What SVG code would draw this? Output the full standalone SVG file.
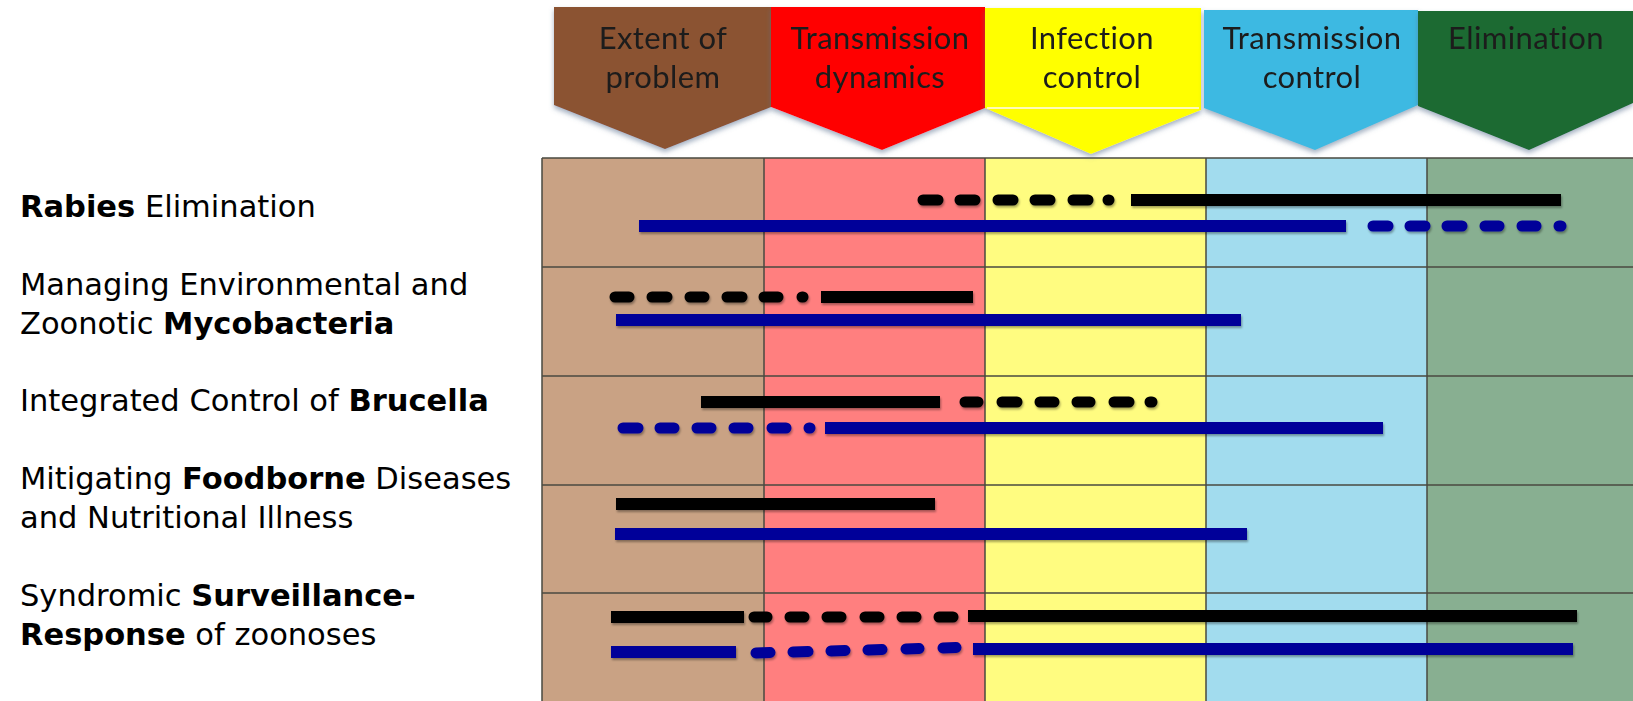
<svg xmlns="http://www.w3.org/2000/svg" width="1633" height="701" viewBox="0 0 1633 701">
<style>
.hdr{font-family:Lato,"Liberation Sans",sans-serif;font-size:31px;letter-spacing:0.4px;fill:#1c1c1c;text-anchor:middle}
.lbl{font-family:"DejaVu Sans","Liberation Sans",sans-serif;font-size:30.5px;fill:#000}
.b{font-weight:bold}
.grid{stroke:#4a4a40;stroke-width:1.5;fill:none}
.sk{stroke:#000;stroke-width:12;fill:none}
.sb{stroke:#000099;stroke-width:12;fill:none}
.dk{stroke:#000;stroke-width:11;fill:none;stroke-linecap:round}
.db{stroke:#000099;stroke-width:11;fill:none;stroke-linecap:round}
</style>
<defs>
<filter id="sh" x="-10%" y="-10%" width="120%" height="130%">
<feDropShadow dx="0" dy="3" stdDeviation="2.5" flood-color="#5a7090" flood-opacity="0.55"/>
</filter>
<filter id="bs" x="-5%" y="-50%" width="110%" height="200%">
<feDropShadow dx="1" dy="2" stdDeviation="1.2" flood-color="#000" flood-opacity="0.35"/>
</filter>
</defs>
<rect width="1633" height="701" fill="#fff"/>

<g id="grid">
<rect x="542" y="158" width="222" height="543" fill="#C9A284"/>
<rect x="764" y="158" width="221" height="543" fill="#FF7F7F"/>
<rect x="985" y="158" width="221" height="543" fill="#FFFC80"/>
<rect x="1206" y="158" width="221" height="543" fill="#A2DCEE"/>
<rect x="1427" y="158" width="206" height="543" fill="#88AF91"/>
<path class="grid" d="M542 158 H1633 M542 267 H1633 M542 376 H1633 M542 485 H1633 M542 593 H1633 M542 158 V701 M764 158 V701 M985 158 V701 M1206 158 V701 M1427 158 V701"/>
</g>

<g id="header-extent" filter="url(#sh)">
<path d="M554 7 H771 V107 L665 149 L554 105 Z" fill="#8B5232"/>
<text class="hdr" x="663" y="49">Extent of</text>
<text class="hdr" x="663" y="88">problem</text>
</g>
<g id="header-dynamics" filter="url(#sh)">
<path d="M771 7 H985 V108 L882 150 L771 107 Z" fill="#FF0000"/>
<text class="hdr" x="880" y="49">Transmission</text>
<text class="hdr" x="880" y="88">dynamics</text>
</g>
<g id="header-infection" filter="url(#sh)">
<path d="M985 8 H1201 V110 L1091 154 L985 108 Z" fill="#FFFF00"/>
<path d="M987 108 H1199" stroke="#FFFBB8" stroke-width="2"/>
<text class="hdr" x="1092" y="49">Infection</text>
<text class="hdr" x="1092" y="88">control</text>
</g>
<g id="header-transmission" filter="url(#sh)">
<path d="M1204 10 H1418 V105 L1315 150 L1204 108 Z" fill="#3EB9E2"/>
<text class="hdr" x="1312" y="49">Transmission</text>
<text class="hdr" x="1312" y="88">control</text>
</g>
<g id="header-elimination" filter="url(#sh)">
<path d="M1418 11 H1633 V103 L1529 150 L1418 106 Z" fill="#1A6A30"/>
<text class="hdr" x="1526" y="49">Elimination</text>
</g>

<g id="labels">
<g id="label-rabies"><text class="lbl" x="20" y="217"><tspan class="b">Rabies</tspan> Elimination</text></g>
<g id="label-myco"><text class="lbl" x="20" y="295">Managing Environmental and</text><text class="lbl" x="20" y="334">Zoonotic <tspan class="b">Mycobacteria</tspan></text></g>
<g id="label-brucella"><text class="lbl" x="20" y="411">Integrated Control of <tspan class="b">Brucella</tspan></text></g>
<g id="label-food"><text class="lbl" x="20" y="489">Mitigating <tspan class="b">Foodborne</tspan> Diseases</text><text class="lbl" x="20" y="528">and Nutritional Illness</text></g>
<g id="label-surv"><text class="lbl" x="20" y="606">Syndromic <tspan class="b">Surveillance-</tspan></text><text class="lbl" x="20" y="645"><tspan class="b">Response</tspan> of zoonoses</text></g>
</g>

<g id="connectors" filter="url(#bs)">
<!-- row 1 -->
<path class="dk" d="M923 200 H938 M960 200 H975 M998 200 H1013 M1035 200 H1050 M1073 200 H1088 M1108 200 H1109"/>
<path class="sk" d="M1131 200 H1561"/>
<path class="sb" d="M639 226 H1346"/>
<path class="db" d="M1373 226 H1388 M1410 226 H1425 M1447 226 H1462 M1485 226 H1499 M1522 226 H1536 M1559 226 H1561"/>
<!-- row 2 -->
<path class="dk" d="M615 297 H629 M652 297 H667 M690 297 H704 M727 297 H742 M764 297 H778 M802 297 H803"/>
<path class="sk" d="M821 297 H973"/>
<path class="sb" d="M616 320 H1241"/>
<!-- row 3 -->
<path class="sk" d="M701 402 H940"/>
<path class="dk" d="M965 402 H978 M1002 402 H1017 M1040 402 H1054 M1077 402 H1090 M1114 402 H1129 M1150 402 H1152"/>
<path class="db" d="M623 428 H638 M660 428 H674 M697 428 H711 M734 428 H748 M772 428 H786 M809 428 H810"/>
<path class="sb" d="M825 428 H1383"/>
<!-- row 4 -->
<path class="sk" d="M616 504 H935"/>
<path class="sb" d="M615 534 H1247"/>
<!-- row 5 -->
<path class="sk" d="M611 617 H744"/>
<path class="dk" d="M754 617 H767 M790 617 H804 M827 617 H841 M865 617 H879 M902 617 H916 M939 617 H953"/>
<path class="sk" d="M968 616 H1577"/>
<path class="sb" d="M611 652 H736"/>
<path class="db" d="M756 653 L770 652.5 M793 652 L808 651.5 M831 651 L845 650.5 M868 650 L882 649.5 M906 649 L919 648.5 M943 648 L956 647.5"/>
<path class="sb" d="M973 649 H1573"/>
</g>
</svg>
